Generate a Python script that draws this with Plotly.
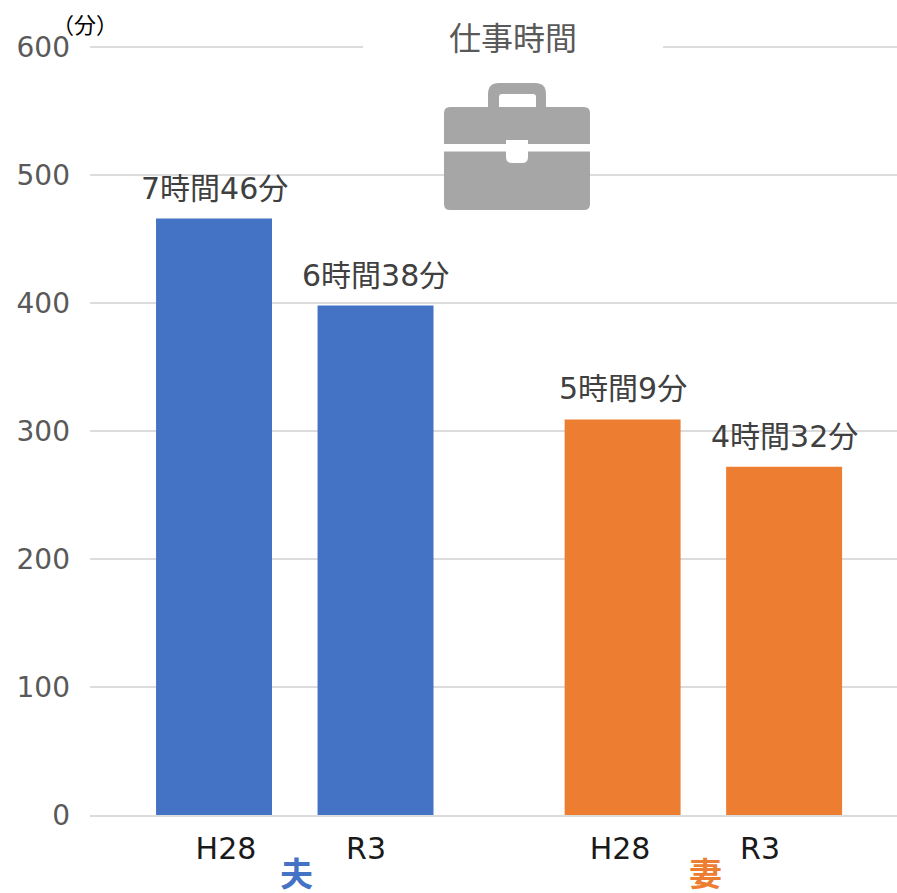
import plotly.graph_objects as go

# Minutes of paid work per day, husbands then wives, survey years H28 and R3
bar_pos = [0, 1, 2.53, 3.53]
minutes = [466, 398, 309, 272]
bar_colors = ["#4472C4", "#4472C4", "#ED7D31", "#ED7D31"]

year_pos = [0.074, 0.941, 2.514, 3.381]
year_labels = ["H28", "R3", "H28", "R3"]
y_ticks = [0, 100, 200, 300, 400, 500, 600]

FONT = "DejaVu Sans, Noto Sans CJK JP, sans-serif"
JP = "Noto Sans CJK JP, sans-serif"
W, H = 897, 893
L, R, T, B = 90, 897, 47, 815
ICON = "#A6A6A6"
GRID = "#DCDCDC"


def hm(m):
    return f"{m // 60}時間{m % 60}分"


def px(x):
    return (x - L) / (R - L)


def py(y):
    return 1 - (y - T) / (B - T)


def rect_path(x0, y0, x1, y1, r):
    """Rounded rectangle in canvas pixels, expressed in paper coordinates."""
    pts = [
        f"M{px(x0 + r)},{py(y0)}",
        f"L{px(x1 - r)},{py(y0)}",
        f"Q{px(x1)},{py(y0)} {px(x1)},{py(y0 + r)}",
        f"L{px(x1)},{py(y1 - r)}",
        f"Q{px(x1)},{py(y1)} {px(x1 - r)},{py(y1)}",
        f"L{px(x0 + r)},{py(y1)}",
        f"Q{px(x0)},{py(y1)} {px(x0)},{py(y1 - r)}",
        f"L{px(x0)},{py(y0 + r)}",
        f"Q{px(x0)},{py(y0)} {px(x0 + r)},{py(y0)}Z",
    ]
    return "".join(pts)


def blob(x0, y0, x1, y1, r, color):
    return dict(type="path", xref="paper", yref="paper", path=rect_path(x0, y0, x1, y1, r),
                fillcolor=color, line_width=0, layer="above")


def label(x, y, text, family, size, color):
    return dict(x=px(x), y=py(y), xref="paper", yref="paper", text=text, showarrow=False,
                xanchor="center", yanchor="middle", font=dict(family=family, size=size, color=color))


fig = go.Figure(go.Bar(x=bar_pos, y=minutes, width=0.718, marker_color=bar_colors,
                       marker_line_width=0, hoverinfo="skip"))

# Top gridline, broken around the heading, then the briefcase pictogram
shapes = [
    dict(type="line", xref="paper", yref="paper", x0=0, x1=px(363), y0=1, y1=1,
         line=dict(color=GRID, width=2), layer="below"),
    dict(type="line", xref="paper", yref="paper", x0=px(663), x1=1, y0=1, y1=1,
         line=dict(color=GRID, width=2), layer="below"),
    blob(488, 83, 546, 120, 11, ICON),
    blob(499, 94, 536, 120, 3, "white"),
    blob(444, 107, 590, 210, 6, ICON),
    blob(444, 144, 590, 151.5, 0.01, "white"),
    blob(506, 140, 528, 150, 0.01, "white"),
    blob(506, 140, 528, 163, 6, "white"),
]

annotations = [
    dict(x=p, y=v, xref="x", yref="y", text=hm(v), showarrow=False, xanchor="center",
         yanchor="bottom", yshift=11, font=dict(family=FONT, size=30, color="#404040"))
    for p, v in zip(bar_pos, minutes)
]
annotations += [
    label(513, 36, "仕事時間", JP, 32, "#595959"),
    label(85, 23, "（分）", JP, 22, "#000000"),
    label(296, 872, "<b>夫</b>", JP, 33, "#4472C4"),
    label(705, 872, "<b>妻</b>", JP, 33, "#ED7D31"),
]

fig.update_layout(
    width=W, height=H, margin=dict(l=L, r=W - R, t=T, b=H - B),
    paper_bgcolor="white", plot_bgcolor="white", showlegend=False,
    shapes=shapes, annotations=annotations,
    xaxis=dict(range=[-0.768, 4.229], tickmode="array", tickvals=year_pos, ticktext=year_labels,
               showgrid=False, zeroline=False, showline=True, linecolor=GRID, linewidth=2,
               ticks="", ticklabelstandoff=6,
               tickfont=dict(family=FONT, size=30, color="#1A1A1A")),
    yaxis=dict(range=[0, 600], tickmode="array", tickvals=y_ticks, showgrid=True,
               gridcolor=GRID, gridwidth=2, zeroline=False, ticks="", ticklabelstandoff=19,
               tickfont=dict(family=FONT, size=28, color="#595959")),
)

fig.write_html("out.html")
